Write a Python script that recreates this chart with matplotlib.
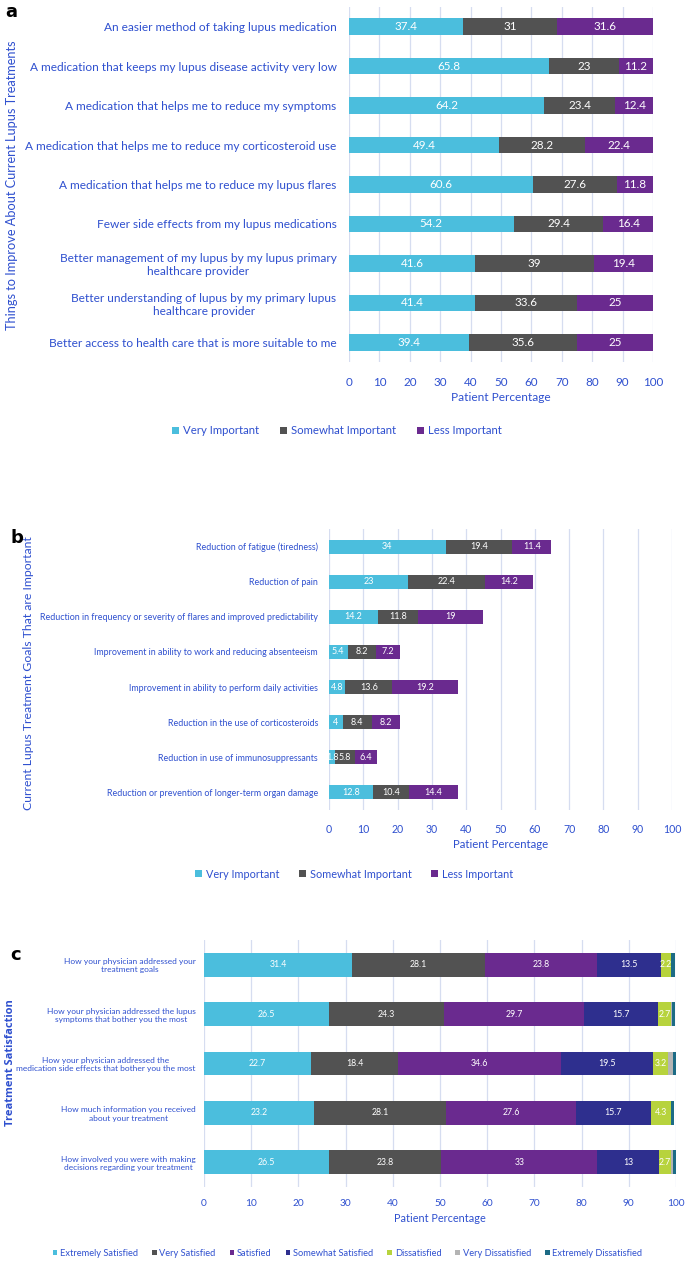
import numpy as np
import matplotlib.pyplot as plt
from matplotlib import font_manager

BLUE_TXT = '#2F50CF'
GRID = '#D6DDF0'
CYAN, GRAY, PURPLE = '#4BBEDD', '#525252', '#6A2A8F'
NAVY, LIME, LGRAY, TEAL = '#2E2F8E', '#B7D33D', '#B4B4B4', '#1C6B85'

names = {f.name for f in font_manager.fontManager.ttflist}
NARROW = 'Liberation Sans Narrow' if 'Liberation Sans Narrow' in names else 'Lato'

# panel a
a_labels = ['An easier method of taking lupus medication',
            'A medication that keeps my lupus disease activity very low',
            'A medication that helps me to reduce my symptoms',
            'A medication that helps me to reduce my corticosteroid use',
            'A medication that helps me to reduce my lupus flares',
            'Fewer side effects from my lupus medications',
            'Better management of my lupus by my lupus primary\nhealthcare provider',
            'Better understanding of lupus by my primary lupus\nhealthcare provider',
            'Better access to health care that is more suitable to me']
a_very = [37.4, 65.8, 64.2, 49.4, 60.6, 54.2, 41.6, 41.4, 39.4]
a_some = [31, 23, 23.4, 28.2, 27.6, 29.4, 39, 33.6, 35.6]
a_less = [31.6, 11.2, 12.4, 22.4, 11.8, 16.4, 19.4, 25, 25]

# panel b
b_labels = ['Reduction of fatigue (tiredness)',
            'Reduction of pain',
            'Reduction in frequency or severity of flares and improved predictability',
            'Improvement in ability to work and reducing absenteeism',
            'Improvement in ability to perform daily activities',
            'Reduction in the use of corticosteroids',
            'Reduction in use of immunosuppressants',
            'Reduction or prevention of longer-term organ damage']
b_very = [34, 23, 14.2, 5.4, 4.8, 4, 1.8, 12.8]
b_some = [19.4, 22.4, 11.8, 8.2, 13.6, 8.4, 5.8, 10.4]
b_less = [11.4, 14.2, 19, 7.2, 19.2, 8.2, 6.4, 14.4]

# panel c
c_labels = ['How your physician addressed your\ntreatment goals',
            'How your physician addressed the lupus\nsymptoms that bother you the most',
            'How your physician addressed the\nmedication side effects that bother you the most',
            'How much information you received\nabout your treatment',
            'How involved you were with making\ndecisions regarding your treatment']
c_series = ['Extremely Satisfied', 'Very Satisfied', 'Satisfied', 'Somewhat Satisfied',
            'Dissatisfied', 'Very Dissatisfied', 'Extremely Dissatisfied']
c_ext_sat = [31.4, 26.5, 22.7, 23.2, 26.5]
c_very_sat = [28.1, 24.3, 18.4, 28.1, 23.8]
c_sat = [23.8, 29.7, 34.6, 27.6, 33]
c_some_sat = [13.5, 15.7, 19.5, 15.7, 13]
c_dis = [2.2, 2.7, 3.2, 4.3, 2.7]
c_very_dis = [0, 0.2, 0.9, 0, 0.3]
c_ext_dis = [0.8, 0.6, 0.6, 0.6, 0.6]

imp_series = ['Very Important', 'Somewhat Important', 'Less Important']
ticks = list(range(0, 101, 10))

fig = plt.figure(figsize=(6.88, 12.69), dpi=100)


def stacked(ax, labels, series, colors, height, nlab, lab_font, lab_size, val_font, val_size,
            tick_font, tick_size, pad, tickpad):
    y = np.arange(len(labels))
    left = np.zeros(len(labels))
    handles = []
    for k, (vals, col) in enumerate(zip(series, colors)):
        vals = np.array(vals, dtype=float)
        h = ax.barh(y, vals, left=left, height=height, color=col, zorder=3)
        handles.append(h)
        if k < nlab:
            for yi, (l, v) in enumerate(zip(left, vals)):
                ax.text(l + v / 2, yi, f'{v:g}', ha='center', va='center', color='white',
                        fontsize=val_size, family=val_font, zorder=4)
        left += vals
    ax.set_xlim(0, 100)
    ax.set_ylim(len(labels) - 0.5, -0.5)
    ax.set_yticks(y)
    ax.set_yticklabels(labels, family=lab_font, fontsize=lab_size, color=BLUE_TXT,
                       multialignment='center')
    ax.set_xticks(ticks)
    ax.set_xticklabels([str(t) for t in ticks], family=tick_font, fontsize=tick_size, color=BLUE_TXT)
    ax.tick_params(axis='y', length=0, pad=pad)
    ax.tick_params(axis='x', length=0, pad=tickpad)
    ax.grid(axis='x', color=GRID, lw=0.9, zorder=0)
    for s in ax.spines.values():
        s.set_visible(False)
    return handles


# ---- a
ax_a = fig.add_axes([349 / 688, 1 - 362 / 1269, 304 / 688, 355 / 1269])
ha = stacked(ax_a, a_labels, [a_very, a_some, a_less], [CYAN, GRAY, PURPLE], 0.42, 3,
             'Lato', 8.6, 'Lato', 8.4, 'Lato', 8.4, 9, 11)
ax_a.set_xlabel('Patient Percentage', family='Lato', fontsize=8.6, color=BLUE_TXT, labelpad=3)
fig.text(12 / 688, 1 - 185 / 1269, 'Things to Improve About Current Lupus Treatments',
         rotation=90, ha='center', va='center', family='Lato', fontsize=9.2, color=BLUE_TXT)
fig.text(5 / 688, 1 - 12 / 1269, 'a', fontsize=13, fontweight='bold', va='center')
fig.legend(ha, imp_series, loc='center', bbox_to_anchor=(0.49, 1 - 431 / 1269), ncol=3,
           frameon=False, handlelength=0.6, handleheight=0.6, handletextpad=0.4,
           columnspacing=1.8, prop={'family': 'Lato', 'size': 8.2}, labelcolor=BLUE_TXT)

# ---- b
ax_b = fig.add_axes([329 / 688, 1 - 810 / 1269, 343 / 688, 281 / 1269])
hb = stacked(ax_b, b_labels, [b_very, b_some, b_less], [CYAN, GRAY, PURPLE], 0.40, 3,
             NARROW, 6.4, NARROW, 6.5, 'Lato', 7.6, 8, 10)
ax_b.set_xlabel('Patient Percentage', family='Lato', fontsize=8.2, color=BLUE_TXT, labelpad=3)
fig.text(28 / 688, 1 - 673 / 1269, 'Current Lupus Treatment Goals That are Important',
         rotation=90, ha='center', va='center', family='Lato', fontsize=8.8, color=BLUE_TXT)
fig.text(10 / 688, 1 - 538 / 1269, 'b', fontsize=13, fontweight='bold', va='center')
fig.legend(hb, imp_series, loc='center', bbox_to_anchor=(0.515, 1 - 874 / 1269), ncol=3,
           frameon=False, handlelength=0.6, handleheight=0.6, handletextpad=0.4,
           columnspacing=1.8, prop={'family': 'Lato', 'size': 7.8}, labelcolor=BLUE_TXT)

# ---- c
ax_c = fig.add_axes([204 / 688, 1 - 1187 / 1269, 472 / 688, 247 / 1269])
hc = stacked(ax_c, c_labels,
             [c_ext_sat, c_very_sat, c_sat, c_some_sat, c_dis, c_very_dis, c_ext_dis],
             [CYAN, GRAY, PURPLE, NAVY, LIME, LGRAY, TEAL], 0.48, 5,
             NARROW, 6.0, NARROW, 6.3, NARROW, 7.3, 6, 9)
ax_c.set_xlabel('Patient Percentage', family=NARROW, fontsize=7.8, color=BLUE_TXT, labelpad=3)
fig.text(11 / 688, 1 - 1063 / 1269, 'Treatment Satisfaction', rotation=90, ha='center',
         va='center', family='Open Sans', fontweight='bold', fontsize=8.0, color=BLUE_TXT)
fig.text(10 / 688, 1 - 955 / 1269, 'c', fontsize=13, fontweight='bold', va='center')
fig.legend(hc, c_series, loc='center', bbox_to_anchor=(0.505, 1 - 1253 / 1269), ncol=7,
           frameon=False, handlelength=0.5, handleheight=0.5, handletextpad=0.3,
           columnspacing=1.5, prop={'family': NARROW, 'size': 6.7}, labelcolor=BLUE_TXT)

fig.savefig('out.png', dpi=100)
